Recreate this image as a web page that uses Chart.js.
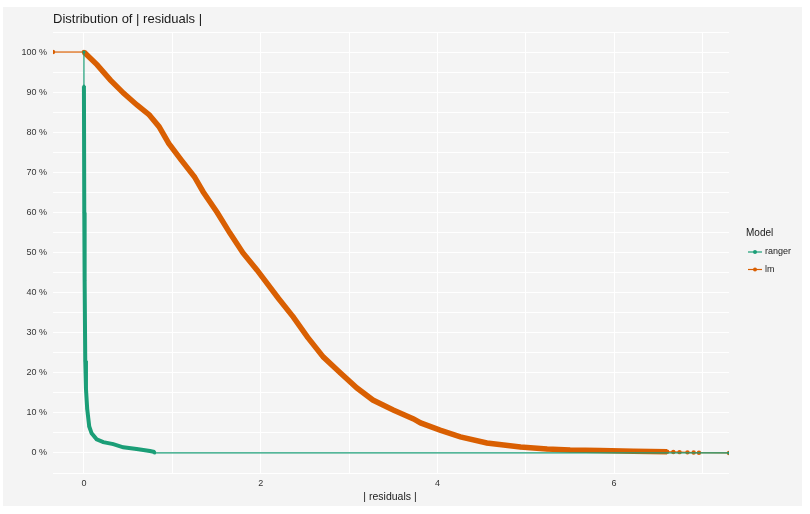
<!DOCTYPE html>
<html>
<head>
<meta charset="utf-8">
<script src="https://cdn.jsdelivr.net/npm/chart.js@4.4.0/dist/chart.umd.min.js"></script>
<style>
  html, body { margin: 0; padding: 0; background: #ffffff; }
  #wrap { width: 810px; height: 514px; }
</style>
</head>
<body>
<div id="wrap"><canvas id="residChart" width="810" height="514"></canvas></div>
<script>
const modelNames = ['ranger', 'lm'];
const modelColors = ['#1B9E77', '#D95F02'];

const rangerResid = [0, 0, 0.004, 0.008, 0.015, 0.023, 0.037, 0.06, 0.087, 0.144, 0.219, 0.332, 0.445, 0.597, 0.747, 0.79, 0.8, 7.3];
const rangerShare = [100, 91.5, 60, 43, 23, 16, 11, 6.6, 4.9, 3.4, 2.7, 2.2, 1.4, 1.0, 0.5, 0.3, 0, 0];

const lmResid = [-0.35, 0, 0.15, 0.3, 0.45, 0.6, 0.74, 0.85, 0.96, 1.1, 1.25, 1.35, 1.51, 1.65, 1.8, 1.96, 2.2, 2.37, 2.53, 2.71, 2.9, 3.09, 3.27, 3.5, 3.73, 3.81, 4.03, 4.26, 4.56, 4.94, 5.24, 5.5, 5.84, 6.22, 6.6, 6.67, 6.74, 6.83, 6.9, 6.96, 7.3];
const lmShare = [100, 100, 96.8, 93.0, 89.7, 86.8, 84.3, 81.4, 77.2, 73.1, 68.9, 65.1, 59.9, 54.9, 49.9, 45.6, 38.6, 33.9, 28.9, 23.9, 20.0, 16.2, 13.2, 10.7, 8.5, 7.5, 5.7, 4.0, 2.5, 1.5, 1.0, 0.75, 0.6, 0.4, 0.3, 0.25, 0.2, 0.15, 0.1, 0.05, 0];

const xTicks = [0, 2, 4, 6];
const yTicks = [0, 10, 20, 30, 40, 50, 60, 70, 80, 90, 100];

const FONT = '"Liberation Sans", Arial, sans-serif';

function toPoints(xs, ys) {
  return xs.map((x, i) => ({ x: x, y: ys[i] }));
}

// grey panel behind everything
const panelBg = {
  id: 'panelBg',
  beforeDraw(chart) {
    const c = chart.ctx;
    c.save();
    c.fillStyle = '#ffffff';
    c.fillRect(0, 0, chart.width, chart.height);
    c.fillStyle = '#f4f4f4';
    c.fillRect(3, 7, 799, 499);
    c.restore();
  }
};

// title, axis title and the ggplot-like legend
const extraText = {
  id: 'extraText',
  afterDraw(chart) {
    const c = chart.ctx;
    const area = chart.chartArea;
    c.save();
    c.textBaseline = 'middle';
    c.fillStyle = '#1a1a1a';
    c.font = '13px ' + FONT;
    c.textAlign = 'left';
    c.fillText('Distribution of | residuals |', area.left, 19);

    c.font = '10.5px ' + FONT;
    c.textAlign = 'center';
    c.fillText('| residuals |', 390, 497);

    c.textAlign = 'left';
    c.font = '10px ' + FONT;
    c.fillText('Model', 746, 233);
    c.font = '9px ' + FONT;
    chart.data.datasets.forEach((ds, i) => {
      const y = 252 + i * 17.5;
      c.strokeStyle = ds.borderColor;
      c.lineWidth = 1.2;
      c.beginPath();
      c.moveTo(748, y);
      c.lineTo(762, y);
      c.stroke();
      c.fillStyle = ds.borderColor;
      c.beginPath();
      c.arc(755, y, 2, 0, Math.PI * 2);
      c.fill();
      c.fillStyle = '#1a1a1a';
      c.fillText(ds.label, 765, y);
    });
    c.restore();
  }
};

new Chart(document.getElementById('residChart'), {
  type: 'line',
  data: {
    datasets: [
      {
        label: modelNames[0],
        data: toPoints(rangerResid, rangerShare),
        borderColor: modelColors[0],
        backgroundColor: modelColors[0],
        borderWidth: 1.2,
        pointRadius: 1.5,
        pointBorderWidth: 0,
        tension: 0,
        segment: {
          borderWidth: ctx => (ctx.p0.parsed.y < 95 && ctx.p1.parsed.x <= 0.8) ? 4 : 1.2
        }
      },
      {
        label: modelNames[1],
        data: toPoints(lmResid, lmShare),
        borderColor: modelColors[1],
        backgroundColor: modelColors[1],
        borderWidth: 1.2,
        pointRadius: 2.2,
        pointBorderWidth: 0,
        tension: 0,
        segment: {
          borderWidth: ctx => (ctx.p0.parsed.x >= 0 && ctx.p1.parsed.x <= 6.6) ? 5.5 : 1.2
        }
      }
    ]
  },
  options: {
    responsive: false,
    animation: false,
    devicePixelRatio: 1,
    layout: { padding: { top: 32, left: 0, right: 81, bottom: 0 } },
    plugins: {
      legend: { display: false },
      tooltip: { enabled: false }
    },
    scales: {
      x: {
        type: 'linear',
        min: -0.35,
        max: 7.3,
        border: { display: false },
        grid: { color: '#ffffff', lineWidth: 1, drawTicks: false },
        afterBuildTicks: scale => {
          scale.ticks = [0, 1, 2, 3, 4, 5, 6, 7].map(v => ({ value: v }));
        },
        afterFit: scale => { scale.height = 41; },
        ticks: {
          padding: 5,
          color: '#333333',
          font: { family: FONT, size: 9 },
          maxRotation: 0,
          autoSkip: false,
          callback: v => xTicks.includes(v) ? String(v) : ''
        }
      },
      y: {
        type: 'linear',
        min: -5,
        max: 105,
        border: { display: false },
        grid: { color: '#ffffff', lineWidth: 1, drawTicks: false },
        afterBuildTicks: scale => {
          const t = [];
          for (let v = -5; v <= 105; v += 5) t.push({ value: v });
          scale.ticks = t;
        },
        afterFit: scale => { scale.width = 53; },
        ticks: {
          padding: 6,
          color: '#333333',
          font: { family: FONT, size: 9 },
          autoSkip: false,
          callback: v => yTicks.includes(v) ? v + ' %' : ''
        }
      }
    }
  },
  plugins: [panelBg, extraText]
});
</script>
</body>
</html>
